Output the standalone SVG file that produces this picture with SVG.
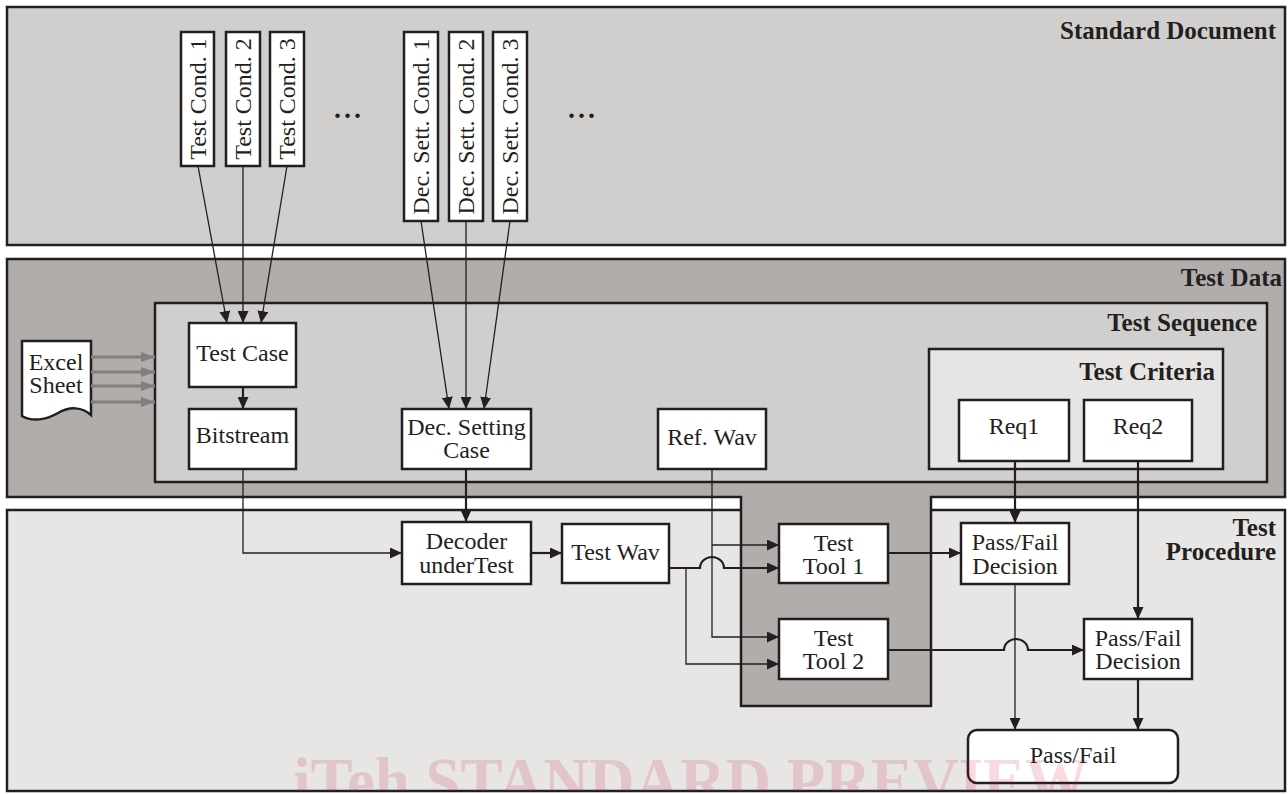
<svg xmlns="http://www.w3.org/2000/svg" width="1288" height="794" viewBox="0 0 1288 794">
<style>
.panel{stroke:#231f20;stroke-width:2.5}
.box{fill:#fff;stroke:#231f20;stroke-width:2.5}
.t{font-family:"Liberation Serif","DejaVu Serif",serif;font-size:24px;fill:#231f20;text-anchor:middle}
.h{font-family:"Liberation Serif","DejaVu Serif",serif;font-size:25px;font-weight:bold;fill:#231f20;text-anchor:end}
.thin{fill:none;stroke:#231f20;stroke-width:1.3}
.thick{fill:none;stroke:#231f20;stroke-width:2.2}
.gray{fill:none;stroke:#808080;stroke-width:3}
.dots{font-family:"Liberation Serif","DejaVu Serif",serif;font-size:28px;font-weight:bold;fill:#231f20;letter-spacing:3px}
</style>
<defs>
<marker id="ah" markerUnits="userSpaceOnUse" markerWidth="12" markerHeight="11" refX="12" refY="5.5" orient="auto"><path d="M0,0 L12,5.5 L0,11 Z" fill="#231f20"/></marker>
<marker id="ag" markerUnits="userSpaceOnUse" markerWidth="14" markerHeight="10" refX="14" refY="5" orient="auto"><path d="M0,0 L14,5 L0,10 Z" fill="#808080"/></marker>
<clipPath id="wm"><rect x="0" y="0" width="1288" height="791"/></clipPath>
</defs>

<g id="panels">
<rect id="standard-document" class="panel" x="7" y="7" width="1278" height="238" fill="#d0cfcd"/>
<rect id="test-procedure" class="panel" x="7" y="510" width="1278" height="281" fill="#e7e6e4"/>
<path id="test-data" class="panel" d="M7,259 H1285 V497 H931 V706 H741 V497 H7 Z" fill="#b1adab"/>
<rect id="test-sequence" class="panel" x="155" y="303" width="1112" height="179" fill="#d0cfcd"/>
<rect id="test-criteria" class="panel" x="929" y="349" width="294" height="120" fill="#e6e5e3"/>
<text class="h" x="1276" y="39">Standard Document</text>
<text class="h" x="1282" y="286">Test Data</text>
<text class="h" x="1257" y="331">Test Sequence</text>
<text class="h" x="1215" y="380">Test Criteria</text>
<text class="h" x="1276" y="536">Test<tspan x="1276" y="560">Procedure</tspan></text>
<text class="dots" x="334" y="118">...</text>
<text class="dots" x="568" y="118">...</text>
</g>

<g id="test-cond-1"><rect class="box" x="181" y="32" width="33" height="134"/><text class="t" x="197.5" y="107" transform="rotate(-90 197.5 99)">Test Cond. 1</text></g>
<g id="test-cond-2"><rect class="box" x="226" y="32" width="34" height="134"/><text class="t" x="243" y="107" transform="rotate(-90 243 99)">Test Cond. 2</text></g>
<g id="test-cond-3"><rect class="box" x="270" y="32" width="34" height="134"/><text class="t" x="287" y="107" transform="rotate(-90 287 99)">Test Cond. 3</text></g>
<g id="dec-sett-cond-1"><rect class="box" x="404" y="32" width="34" height="189"/><text class="t" x="421" y="134.5" transform="rotate(-90 421 126.5)">Dec. Sett. Cond. 1</text></g>
<g id="dec-sett-cond-2"><rect class="box" x="449" y="32" width="34" height="189"/><text class="t" x="466" y="134.5" transform="rotate(-90 466 126.5)">Dec. Sett. Cond. 2</text></g>
<g id="dec-sett-cond-3"><rect class="box" x="493" y="32" width="34" height="189"/><text class="t" x="510" y="134.5" transform="rotate(-90 510 126.5)">Dec. Sett. Cond. 3</text></g>

<g id="excel-sheet"><path class="box" d="M22,341 H91 V415 C82,407 70,406 58,413 C46,420 32,422 22,416 Z"/><text class="t" x="56" y="370">Excel<tspan x="56" y="393">Sheet</tspan></text></g>
<g id="test-case"><rect class="box" x="189" y="323" width="107" height="64"/><text class="t" x="242.5" y="361">Test Case</text></g>
<g id="bitstream"><rect class="box" x="189" y="409" width="107" height="60"/><text class="t" x="242.5" y="443">Bitstream</text></g>
<g id="dec-setting-case"><rect class="box" x="402" y="409" width="129" height="60"/><text class="t" x="466.5" y="435">Dec. Setting<tspan x="466.5" y="458">Case</tspan></text></g>
<g id="ref-wav"><rect class="box" x="658" y="409" width="108" height="60"/><text class="t" x="712" y="445">Ref. Wav</text></g>
<g id="req1"><rect class="box" x="959" y="400" width="110" height="61"/><text class="t" x="1014" y="434">Req1</text></g>
<g id="req2"><rect class="box" x="1084" y="400" width="108" height="61"/><text class="t" x="1138" y="434">Req2</text></g>
<g id="decoder"><rect class="box" x="402" y="522" width="129" height="62"/><text class="t" x="466.5" y="549">Decoder<tspan x="466.5" y="573">underTest</tspan></text></g>
<g id="test-wav"><rect class="box" x="562" y="524" width="107" height="59"/><text class="t" x="615.5" y="560">Test Wav</text></g>
<g id="test-tool-1"><rect class="box" x="779" y="524" width="109" height="59"/><text class="t" x="833.5" y="551">Test<tspan x="833.5" y="574">Tool 1</tspan></text></g>
<g id="test-tool-2"><rect class="box" x="779" y="619" width="109" height="60"/><text class="t" x="833.5" y="646">Test<tspan x="833.5" y="669">Tool 2</tspan></text></g>
<g id="pass-fail-decision-1"><rect class="box" x="961" y="523" width="108" height="61"/><text class="t" x="1015" y="550">Pass/Fail<tspan x="1015" y="574">Decision</tspan></text></g>
<g id="pass-fail-decision-2"><rect class="box" x="1084" y="619" width="108" height="60"/><text class="t" x="1138" y="646">Pass/Fail<tspan x="1138" y="669">Decision</tspan></text></g>
<g id="pass-fail"><rect class="box" x="968" y="730" width="210" height="53" rx="9"/><text class="t" x="1073" y="763">Pass/Fail</text></g>

<g id="connectors">
<line class="thin" x1="198" y1="166" x2="227" y2="323" marker-end="url(#ah)"/>
<line class="thin" x1="243" y1="166" x2="243" y2="323" marker-end="url(#ah)"/>
<line class="thin" x1="287" y1="166" x2="261" y2="323" marker-end="url(#ah)"/>
<line class="thin" x1="421" y1="221" x2="449" y2="409" marker-end="url(#ah)"/>
<line class="thin" x1="466" y1="221" x2="466" y2="409" marker-end="url(#ah)"/>
<line class="thin" x1="510" y1="221" x2="484" y2="409" marker-end="url(#ah)"/>
<line class="gray" x1="91" y1="357" x2="155" y2="357" marker-end="url(#ag)"/>
<line class="gray" x1="91" y1="372" x2="155" y2="372" marker-end="url(#ag)"/>
<line class="gray" x1="91" y1="386" x2="155" y2="386" marker-end="url(#ag)"/>
<line class="gray" x1="91" y1="402" x2="155" y2="402" marker-end="url(#ag)"/>
<line class="thick" x1="243" y1="387" x2="243" y2="409" marker-end="url(#ah)"/>
<path class="thin" d="M243,469 V553 H402" marker-end="url(#ah)"/>
<line class="thick" x1="466" y1="469" x2="466" y2="522" marker-end="url(#ah)"/>
<line class="thick" x1="531" y1="553" x2="562" y2="553" marker-end="url(#ah)"/>
<path class="thin" d="M712,469 V637 H779" marker-end="url(#ah)"/>
<path class="thin" d="M712,545 H779" marker-end="url(#ah)"/>
<path class="thick" d="M669,568 H700 A12,11 0 0 1 724,568 H779" marker-end="url(#ah)"/>
<path class="thin" d="M686,568 V664 H779" marker-end="url(#ah)"/>
<line class="thick" x1="888" y1="553" x2="961" y2="553" marker-end="url(#ah)"/>
<path class="thick" d="M888,650 H1004 A12,11 0 0 1 1028,650 H1084" marker-end="url(#ah)"/>
<line class="thick" x1="1015" y1="461" x2="1015" y2="523" marker-end="url(#ah)"/>
<line class="thick" x1="1138" y1="461" x2="1138" y2="619" marker-end="url(#ah)"/>
<line class="thin" x1="1015" y1="584" x2="1015" y2="730" marker-end="url(#ah)"/>
<line class="thick" x1="1138" y1="679" x2="1138" y2="730" marker-end="url(#ah)"/>
</g>

<g id="watermark" clip-path="url(#wm)">
<text x="293" y="804" textLength="795" lengthAdjust="spacingAndGlyphs" font-family="Liberation Serif, DejaVu Serif, serif" font-size="68" font-weight="bold" fill="#c8102e" fill-opacity="0.15">iTeh STANDARD PREVIEW</text>
</g>
</svg>
